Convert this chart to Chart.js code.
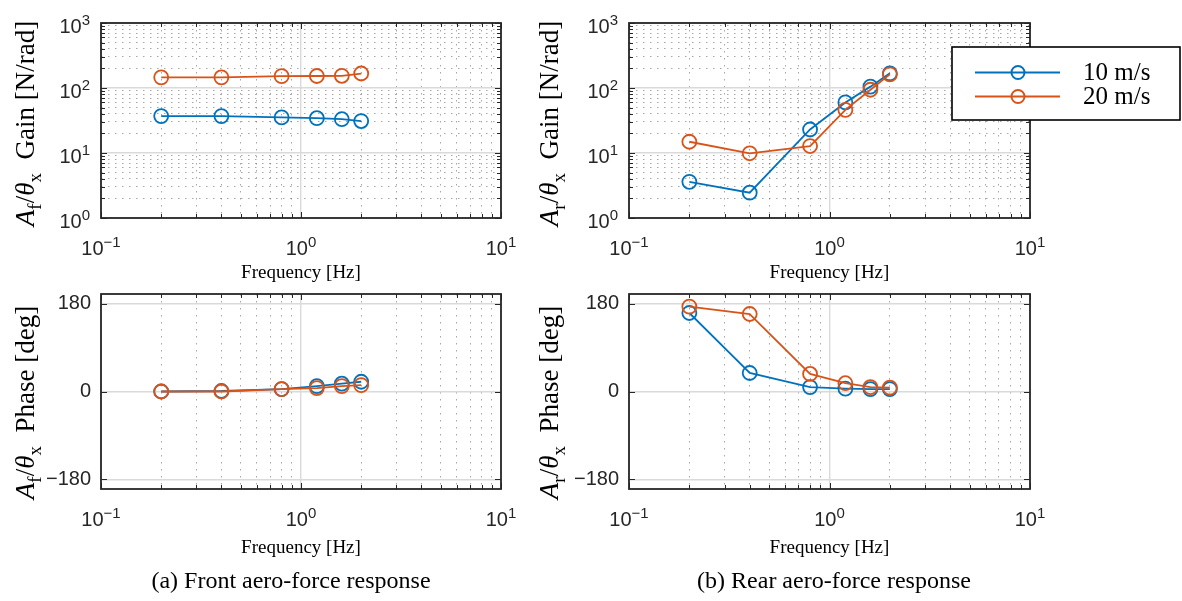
<!DOCTYPE html>
<html>
<head>
<meta charset="utf-8">
<script src="https://cdn.jsdelivr.net/npm/chart.js@4.4.0/dist/chart.umd.min.js"></script>
<style>
  html, body { margin: 0; padding: 0; background: #fff; }
  #wrap { position: relative; width: 1182px; height: 601px; overflow: hidden; }
  #wrap canvas { position: absolute; left: 0; top: 0; }
</style>
</head>
<body>
<div id="wrap">
  <canvas id="gainF" width="1182" height="601"></canvas>
  <canvas id="phaseF" width="1182" height="601"></canvas>
  <canvas id="phaseR" width="1182" height="601"></canvas>
  <canvas id="gainR" width="1182" height="601"></canvas>
</div>
<script>
// Data
const freq = [0.2, 0.4, 0.8, 1.2, 1.6, 2.0];
const seriesNames = ['10 m/s', '20 m/s'];
const gainFront10 = [37, 37, 35.3, 34.3, 33.1, 31];
const gainFront20 = [146, 146, 152, 153, 154, 167];
const gainRear10 = [3.6, 2.45, 23, 60, 105, 168];
const gainRear20 = [14.9, 9.9, 12.8, 46, 94, 162];
const phaseFront10 = [0, 1, 5, 11, 16, 20];
const phaseFront20 = [0, 0, 5, 7, 11, 13];
const phaseRear10 = [161, 38, 9, 6, 5, 5];
const phaseRear20 = [174, 159, 36, 17, 9, 8];

// Tick labels
const freqDecades = [0.1, 1, 10];
const gainDecades = [1, 10, 100, 1000];
const phaseTicks = [-180, 0, 180];

const BLUE = '#0072BD';
const ORANGE = '#D95319';
const AXIS = '#262626';
const SANS = '"Liberation Sans", Arial, sans-serif';
const SERIF = '"Liberation Serif", "Times New Roman", serif';

// major tick at every decade, minor ticks at 2..9 in between
function decadeTicks(decades) {
  const out = [];
  decades.forEach((d, i) => {
    out.push({ value: d, major: true });
    if (i < decades.length - 1) {
      for (let k = 2; k < 10; k++) out.push({ value: +(d * k).toPrecision(4), major: false });
    }
  });
  return out;
}

function expText(v) {
  const e = Math.round(Math.log10(v));
  return e < 0 ? '\u2212' + Math.abs(e) : String(e);
}

const gridColor = c => (c.tick && !c.tick.major) ? 'rgba(60,60,60,0.45)' : '#dadada';
const gridWidth = c => (c.tick && !c.tick.major) ? 1 : 1.4;
const gridDash = c => (c.tick && !c.tick.major) ? [1.5, 5.5] : [];

function logAxis(decades, horizontal) {
  return {
    type: 'logarithmic',
    min: decades[0],
    max: decades[decades.length - 1],
    afterBuildTicks: s => { s.ticks = decadeTicks(decades); },
    afterFit: s => { if (horizontal) s.height = 0; else s.width = 0; },
    ticks: { display: false, autoSkip: false },
    grid: { drawTicks: false, color: gridColor, lineWidth: gridWidth },
    border: { display: false, dash: gridDash }
  };
}

const PHASE_AXIS_W = 80;
function phaseAxis() {
  return {
    type: 'linear',
    min: -200,
    max: 200,
    afterBuildTicks: s => { s.ticks = phaseTicks.map(v => ({ value: v, major: true })); },
    afterFit: s => { s.width = PHASE_AXIS_W; },
    ticks: {
      autoSkip: false,
      padding: 10,
      color: AXIS,
      font: { family: SANS, size: 20 },
      callback: v => v < 0 ? '\u2212' + Math.abs(v) : String(v)
    },
    grid: { drawTicks: false, color: '#dadada', lineWidth: 1.4 },
    border: { display: false }
  };
}

function drawPow(ctx, v, x, y, align) {
  const base = '10', exp = expText(v);
  ctx.font = '20px ' + SANS;
  const wb = ctx.measureText(base).width;
  ctx.font = '15px ' + SANS;
  const we = ctx.measureText(exp).width;
  const x0 = align === 'center' ? x - (wb + we) / 2 : x - wb - we;
  ctx.textAlign = 'left';
  ctx.textBaseline = 'alphabetic';
  ctx.fillStyle = AXIS;
  ctx.font = '20px ' + SANS;
  ctx.fillText(base, x0, y);
  ctx.font = '15px ' + SANS;
  ctx.fillText(exp, x0 + wb, y - 8);
}

function drawRich(ctx, segs, cx, cy, size) {
  const fontOf = s => (s.italic ? 'italic ' : '') + (s.sub ? Math.round(size * 0.7) : size) + 'px ' + SERIF;
  let total = 0;
  segs.forEach(s => { ctx.font = fontOf(s); s.w = ctx.measureText(s.t).width; total += s.w; });
  ctx.save();
  ctx.translate(cx, cy);
  ctx.rotate(-Math.PI / 2);
  ctx.fillStyle = '#000';
  ctx.textAlign = 'left';
  ctx.textBaseline = 'alphabetic';
  let x = -total / 2;
  segs.forEach(s => {
    ctx.font = fontOf(s);
    ctx.fillText(s.t, x, s.sub ? size * 0.25 : 0);
    x += s.w;
  });
  ctx.restore();
}

function yTitle(sub, word) {
  return [
    { t: 'A', italic: true },
    { t: sub, sub: true },
    { t: '/' },
    { t: '\u03B8', italic: true },
    { t: 'x', sub: true },
    { t: '  ' + word }
  ];
}

// box, inner tick marks, power-of-ten labels, axis titles, caption
const framePlugin = {
  id: 'frame',
  afterDraw(chart, args, o) {
    const { ctx, chartArea: a, scales } = chart;
    const xs = scales.x, ys = scales.y;
    ctx.save();
    ctx.strokeStyle = AXIS;
    ctx.lineWidth = 1;
    ctx.beginPath();
    xs.ticks.forEach(t => {
      const x = Math.round(xs.getPixelForValue(t.value)) + 0.5;
      const len = t.major ? 6 : 4;
      ctx.moveTo(x, a.bottom); ctx.lineTo(x, a.bottom - len);
      ctx.moveTo(x, a.top); ctx.lineTo(x, a.top + len);
    });
    ys.ticks.forEach(t => {
      const y = Math.round(ys.getPixelForValue(t.value)) + 0.5;
      const len = t.major ? 6 : 4;
      ctx.moveTo(a.left, y); ctx.lineTo(a.left + len, y);
      ctx.moveTo(a.right, y); ctx.lineTo(a.right - len, y);
    });
    ctx.stroke();
    ctx.lineWidth = 1.8;
    ctx.strokeRect(a.left, a.top, a.right - a.left, a.bottom - a.top);

    xs.ticks.filter(t => t.major).forEach(t => {
      drawPow(ctx, t.value, xs.getPixelForValue(t.value), a.bottom + 37, 'center');
    });
    if (ys.type === 'logarithmic') {
      ys.ticks.filter(t => t.major).forEach(t => {
        drawPow(ctx, t.value, a.left - 11, ys.getPixelForValue(t.value) + 10, 'right');
      });
    }

    ctx.fillStyle = '#000';
    ctx.font = '19px ' + SERIF;
    ctx.textAlign = 'center';
    ctx.textBaseline = 'alphabetic';
    ctx.fillText('Frequency [Hz]', (a.left + a.right) / 2, a.bottom + o.freqGap);

    drawRich(ctx, o.title, o.titleX, (a.top + a.bottom) / 2 + o.titleShift, 27);

    if (o.caption) {
      ctx.fillStyle = '#000';
      ctx.font = '24px ' + SERIF;
      ctx.textAlign = 'center';
      ctx.fillText(o.caption, o.captionX, 588);
    }
    ctx.restore();
  }
};

// boxed legend that sits over the right edge of the rear gain plot
const boxLegend = {
  id: 'boxLegend',
  afterDraw(chart, args, o) {
    if (!o.show) return;
    const ctx = chart.ctx;
    const [bx, by, bw, bh] = o.box;
    ctx.save();
    ctx.fillStyle = '#fff';
    ctx.fillRect(bx, by, bw, bh);
    ctx.strokeStyle = '#000';
    ctx.lineWidth = 1.6;
    ctx.strokeRect(bx, by, bw, bh);
    const sets = chart.data.datasets.slice().sort((p, q) => seriesNames.indexOf(p.label) - seriesNames.indexOf(q.label));
    sets.forEach((ds, i) => {
      const y = o.rows[i];
      ctx.strokeStyle = ds.borderColor;
      ctx.lineWidth = 2;
      ctx.beginPath();
      ctx.moveTo(bx + 23, y); ctx.lineTo(bx + 108, y);
      ctx.stroke();
      ctx.beginPath();
      ctx.arc(bx + 66, y, 6.5, 0, Math.PI * 2);
      ctx.stroke();
      ctx.fillStyle = '#000';
      ctx.font = '25px ' + SERIF;
      ctx.textAlign = 'left';
      ctx.textBaseline = 'middle';
      ctx.fillText(ds.label, bx + 131, y + 1);
    });
    ctx.restore();
  }
};

function series(label, color, ys, order) {
  return {
    label: label,
    data: freq.map((f, i) => ({ x: f, y: ys[i] })),
    borderColor: color,
    backgroundColor: 'rgba(0,0,0,0)',
    borderWidth: 1.8,
    pointRadius: 7,
    pointBorderWidth: 1.8,
    pointBackgroundColor: 'rgba(0,0,0,0)',
    pointBorderColor: color,
    tension: 0,
    order: order,
    clip: false
  };
}

function makeChart(id, area, yScale, yWidth, d10, d20, frame, legend) {
  return new Chart(document.getElementById(id), {
    type: 'line',
    data: {
      datasets: [
        series(seriesNames[0], BLUE, d10, 1),
        series(seriesNames[1], ORANGE, d20, 0)
      ]
    },
    options: {
      responsive: false,
      animation: false,
      events: [],
      layout: {
        padding: { left: area[0] - yWidth, top: area[1], right: 1182 - area[2], bottom: 601 - area[3] }
      },
      scales: {
        x: logAxis(freqDecades, true),
        y: yScale
      },
      plugins: {
        legend: { display: false },
        tooltip: { enabled: false },
        frame: frame,
        boxLegend: legend || { show: false }
      }
    },
    plugins: [framePlugin, boxLegend]
  });
}

makeChart('gainF', [101, 23, 501, 218], logAxis(gainDecades, false), 0, gainFront10, gainFront20,
  { title: yTitle('f', 'Gain [N/rad]'), titleX: 34, titleShift: 3, freqGap: 60 });
makeChart('gainR', [629, 23, 1030, 218], logAxis(gainDecades, false), 0, gainRear10, gainRear20,
  { title: yTitle('r', 'Gain [N/rad]'), titleX: 558, titleShift: 3, freqGap: 60 },
  { show: true, box: [952, 47, 228, 73], rows: [72.5, 96.5] });
makeChart('phaseF', [101, 294, 501, 489], phaseAxis(), PHASE_AXIS_W, phaseFront10, phaseFront20,
  { title: yTitle('f', 'Phase [deg]'), titleX: 34, titleShift: 11, freqGap: 64,
    caption: '(a) Front aero-force response', captionX: 291 });
makeChart('phaseR', [629, 294, 1030, 489], phaseAxis(), PHASE_AXIS_W, phaseRear10, phaseRear20,
  { title: yTitle('r', 'Phase [deg]'), titleX: 558, titleShift: 11, freqGap: 64,
    caption: '(b) Rear aero-force response', captionX: 834 });
</script>
</body>
</html>
